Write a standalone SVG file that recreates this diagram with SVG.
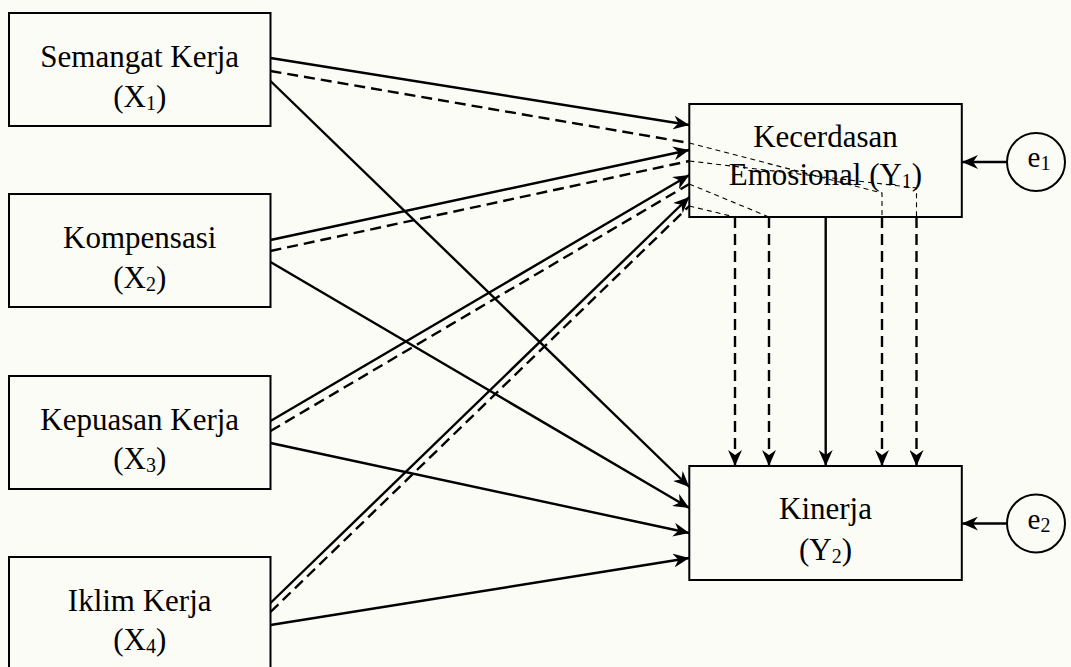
<svg xmlns="http://www.w3.org/2000/svg" width="1071" height="667" viewBox="0 0 1071 667">
<style>
.box{fill:none;stroke:#000;stroke-width:2}
.lbl{font-family:"Liberation Serif","Times New Roman",serif;font-size:31px;fill:#000;text-anchor:middle}
.sub{font-size:20px}
.s{fill:none;stroke:#000;stroke-width:2.4}
.d{fill:none;stroke:#000;stroke-width:2.4;stroke-dasharray:11 6}
.t{fill:none;stroke:#000;stroke-width:1.1;stroke-dasharray:5 4}
.a{marker-end:url(#arr)}
</style>
<defs>
<marker id="arr" markerUnits="userSpaceOnUse" viewBox="0 0 16 14" refX="16" refY="7" markerWidth="16" markerHeight="14" orient="auto">
<path d="M0,0 L16,7 L0,14 L5,7 Z" fill="#000"/>
</marker>
</defs>
<rect width="1071" height="667" fill="#fcfcf7"/>
<g id="X1"><rect class="box" x="9" y="13" width="261.5" height="113"/>
<text class="lbl" x="139.7" y="67">Semangat Kerja</text>
<text class="lbl" x="139.7" y="107">(X<tspan class="sub" dy="3">1</tspan><tspan dy="-3">)</tspan></text></g>
<g id="X2"><rect class="box" x="9" y="194" width="261.5" height="113"/>
<text class="lbl" x="139.7" y="248">Kompensasi</text>
<text class="lbl" x="139.7" y="288">(X<tspan class="sub" dy="3">2</tspan><tspan dy="-3">)</tspan></text></g>
<g id="X3"><rect class="box" x="9" y="376" width="261.5" height="113"/>
<text class="lbl" x="139.7" y="430">Kepuasan Kerja</text>
<text class="lbl" x="139.7" y="469">(X<tspan class="sub" dy="3">3</tspan><tspan dy="-3">)</tspan></text></g>
<g id="X4"><rect class="box" x="9" y="557" width="261.5" height="113"/>
<text class="lbl" x="139.7" y="611">Iklim Kerja</text>
<text class="lbl" x="139.7" y="650">(X<tspan class="sub" dy="3">4</tspan><tspan dy="-3">)</tspan></text></g>
<g id="Y1"><rect class="box" x="689.3" y="104" width="272.5" height="113"/>
<text class="lbl" x="825.5" y="147">Kecerdasan</text>
<text class="lbl" x="825.5" y="185">Emosional (Y<tspan class="sub" dy="3">1</tspan><tspan dy="-3">)</tspan></text></g>
<g id="Y2"><rect class="box" x="689.3" y="466" width="272.5" height="114"/>
<text class="lbl" x="825.5" y="519">Kinerja</text>
<text class="lbl" x="825.5" y="560">(Y<tspan class="sub" dy="3">2</tspan><tspan dy="-3">)</tspan></text></g>
<g id="e1"><circle class="box" cx="1036" cy="162" r="29"/>
<text class="lbl" x="1039" y="167" style="font-size:29px">e<tspan class="sub" dy="3">1</tspan></text></g>
<g id="e2"><circle class="box" cx="1036" cy="523.5" r="29"/>
<text class="lbl" x="1039" y="529" style="font-size:29px">e<tspan class="sub" dy="3">2</tspan></text></g>
<g id="connectors">
<line class="s a" x1="270.5" y1="58" x2="689.3" y2="125"/>
<line class="d" x1="270.5" y1="71" x2="689.3" y2="143"/>
<line class="s a" x1="270.5" y1="81" x2="689.3" y2="487"/>
<line class="s a" x1="270.5" y1="240" x2="689.3" y2="150"/>
<line class="d" x1="270.5" y1="251" x2="689.3" y2="161"/>
<line class="s a" x1="270.5" y1="262" x2="689.3" y2="508"/>
<line class="s a" x1="270.5" y1="421" x2="689.3" y2="175"/>
<line class="d" x1="270.5" y1="431" x2="689.3" y2="184"/>
<line class="s a" x1="270.5" y1="443" x2="689.3" y2="533"/>
<line class="s a" x1="270.5" y1="603" x2="689.3" y2="197"/>
<line class="d" x1="270.5" y1="612" x2="689.3" y2="206"/>
<line class="s a" x1="270.5" y1="625" x2="689.3" y2="558"/>
<polyline class="t" points="689.3,143 882,193 882,217"/>
<polyline class="t" points="689.3,161 916.5,188 916.5,217"/>
<line class="t" x1="689.3" y1="184" x2="769" y2="217"/>
<line class="t" x1="689.3" y1="206" x2="735" y2="217"/>
<line class="d a" x1="735" y1="217" x2="735" y2="466"/>
<line class="d a" x1="769" y1="217" x2="769" y2="466"/>
<line class="s a" x1="825.7" y1="217" x2="825.7" y2="466"/>
<line class="d a" x1="882" y1="217" x2="882" y2="466"/>
<line class="d a" x1="916.5" y1="217" x2="916.5" y2="466"/>
<line class="s a" x1="1007" y1="162" x2="962" y2="162"/>
<line class="s a" x1="1007" y1="523.5" x2="962" y2="523.5"/>
</g>
</svg>
